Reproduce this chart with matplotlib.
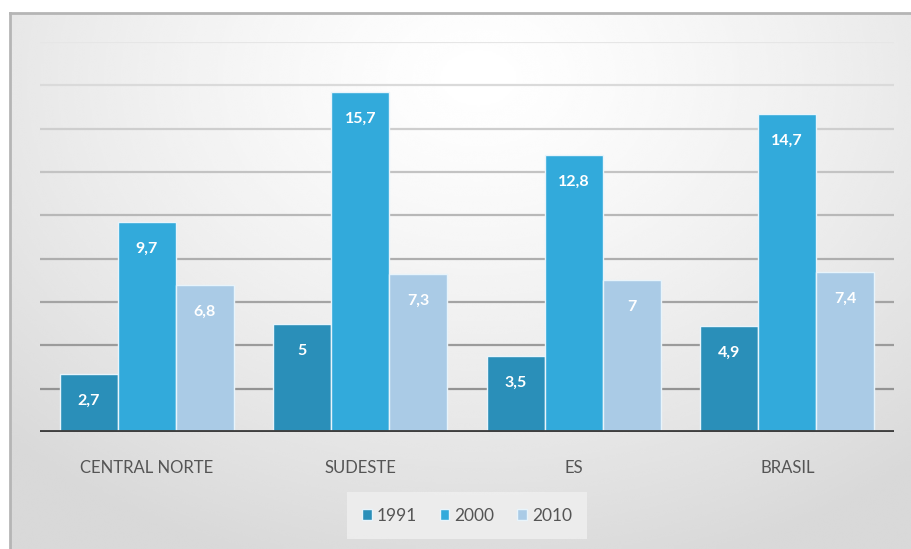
import numpy as np
import matplotlib
matplotlib.use("Agg")
import matplotlib.pyplot as plt

categories = ["CENTRAL NORTE", "SUDESTE", "ES", "BRASIL"]
years = ["1991", "2000", "2010"]
v1991 = [2.7, 5.0, 3.5, 4.9]
v2000 = [9.7, 15.7, 12.8, 14.7]
v2010 = [6.8, 7.3, 7.0, 7.4]
labels1991 = ["2,7", "5", "3,5", "4,9"]
labels2000 = ["9,7", "15,7", "12,8", "14,7"]
labels2010 = ["6,8", "7,3", "7", "7,4"]

colors = ["#2a8fb9", "#32aadb", "#aacbe6"]
plt.rcParams["font.family"] = ["Lato", "DejaVu Sans"]

W, H = 911, 549
fig = plt.figure(figsize=(W / 100, H / 100), dpi=100)
fig.patch.set_facecolor("white")

# panel background: radial gradient, white near top-centre to light grey at edges
bg = fig.add_axes([10 / W, 0, 1 - 10 / W, 1 - 13 / H])
yy, xx = np.mgrid[0:1:300j, 0:1:500j]
d = np.sqrt(((xx - 0.52) / 0.75) ** 2 + ((yy - 0.12) / 0.95) ** 2)
shade = 1.0 - 0.15 * np.clip(d, 0, 1) ** 1.3
bg.imshow(shade, cmap="gray", vmin=0, vmax=1, aspect="auto",
          extent=[0, 1, 1, 0], interpolation="bicubic")
bg.set_xlim(0, 1); bg.set_ylim(1, 0)
bg.axis("off")
fig.add_artist(plt.Line2D([10 / W, 10 / W], [0, 1 - 13 / H], color="#b5b5b5", lw=2))
fig.add_artist(plt.Line2D([10 / W, 1], [1 - 13 / H, 1 - 13 / H], color="#b5b5b5", lw=2))

ax = fig.add_axes([40 / W, (H - 432) / H, (894 - 40) / W, (432 - 42) / H])
ax.set_facecolor("none")
x = np.arange(len(categories))
bw = 0.272
series = [(v1991, labels1991), (v2000, labels2000), (v2010, labels2010)]
for i, (vals, labs) in enumerate(series):
    pos = x + (i - 1) * bw
    bars = ax.bar(pos, vals, width=bw, color=colors[i], edgecolor="#e8f4fb",
                  linewidth=1.0, label=years[i], zorder=3)
    for b, lab in zip(bars, labs):
        ax.annotate(lab, (b.get_x() + b.get_width() / 2, b.get_height()),
                    xytext=(0, -27), textcoords="offset pixels",
                    ha="center", va="center", color="white", fontsize=11.5,
                    fontweight="bold", zorder=4)

ax.set_xlim(-0.5, 3.5)
ax.set_ylim(0, 18)
ticks = np.arange(2, 19, 2)
for t in ticks:
    g = 0.55 + 0.35 * (t / 18) ** 1.2
    ax.axhline(t, color=(g, g, g), lw=1.6, zorder=1)
ax.axhline(0, color="#3f3f3f", lw=3.5, zorder=5)
ax.set_yticks([])
ax.set_xticks(x)
ax.set_xticklabels(categories, fontsize=12, color="#555555")
ax.tick_params(axis="x", length=0, pad=20)
for s in ax.spines.values():
    s.set_visible(False)

leg = ax.legend(loc="upper center", bbox_to_anchor=(0.5, -0.145), ncol=3,
                frameon=True, fontsize=12.5, handlelength=0.55, handleheight=0.55,
                handletextpad=0.3, columnspacing=1.3, borderpad=0.6)
leg.get_frame().set_facecolor("#f0f0f0")
leg.get_frame().set_edgecolor("none")
leg.get_frame().set_alpha(0.8)
leg.get_frame().set_boxstyle("square", pad=0.3)
for t in leg.get_texts():
    t.set_color("#555555")

fig.savefig("out.png", dpi=100)
